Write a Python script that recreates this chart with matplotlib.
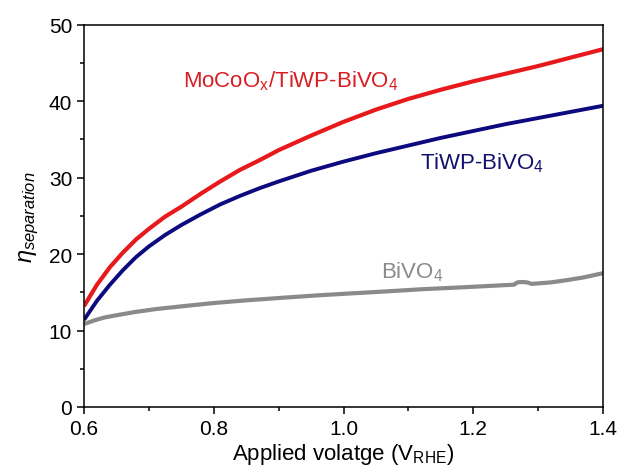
import matplotlib
matplotlib.use("Agg")
import matplotlib.pyplot as plt
from matplotlib.ticker import MultipleLocator, FormatStrFormatter

plt.rcParams['font.family'] = ['Liberation Sans', 'DejaVu Sans']
plt.rcParams['mathtext.fontset'] = 'custom'
plt.rcParams['mathtext.rm'] = 'Liberation Sans'
plt.rcParams['mathtext.it'] = 'Liberation Sans:italic'

# --- veriler ---
x_mococo = [0.600, 0.620, 0.640, 0.660, 0.680, 0.700, 0.725, 0.750, 0.780, 0.810,
            0.840, 0.871, 0.900, 0.950, 1.000, 1.050, 1.100, 1.150, 1.200, 1.250,
            1.300, 1.350, 1.400]
y_mococo = [13.2, 16.0, 18.3, 20.2, 21.9, 23.3, 24.9, 26.2, 27.9, 29.5,
            31.0, 32.3, 33.6, 35.5, 37.3, 38.9, 40.3, 41.5, 42.6, 43.6,
            44.6, 45.7, 46.8]

x_tiwp = [0.600, 0.620, 0.640, 0.660, 0.680, 0.700, 0.725, 0.750, 0.780, 0.810,
          0.840, 0.870, 0.900, 0.950, 1.000, 1.050, 1.100, 1.150, 1.200, 1.250,
          1.300, 1.350, 1.400]
y_tiwp = [11.4, 13.9, 16.0, 17.9, 19.6, 21.0, 22.5, 23.8, 25.2, 26.5,
          27.6, 28.6, 29.5, 30.9, 32.1, 33.2, 34.2, 35.2, 36.1, 37.0,
          37.8, 38.6, 39.4]

x_bivo = [0.600, 0.615, 0.631, 0.650, 0.677, 0.710, 0.754, 0.800, 0.850, 0.908,
          0.960, 1.010, 1.062, 1.120, 1.170, 1.217, 1.263, 1.268, 1.275, 1.283,
          1.290, 1.320, 1.345, 1.370, 1.400]
y_bivo = [10.85, 11.3, 11.7, 12.0, 12.4, 12.8, 13.2, 13.6, 13.95, 14.3,
          14.6, 14.85, 15.1, 15.4, 15.6, 15.8, 16.0, 16.3, 16.35, 16.3,
          16.1, 16.3, 16.6, 16.95, 17.5]

fig = plt.figure(figsize=(6.21, 4.77), dpi=100)
ax = fig.add_axes([0.1353, 0.1447, 0.8357, 0.8013])

ax.plot(x_mococo, y_mococo, color='#e8191c', lw=3.0, solid_capstyle='butt')
ax.plot(x_tiwp, y_tiwp, color='#0c0a7e', lw=2.8, solid_capstyle='butt')
ax.plot(x_bivo, y_bivo, color='#8a8a8a', lw=3.0, solid_capstyle='butt')

ax.text(0.753, 42.7, r'MoCoO$_\mathregular{x}$/TiWP-BiVO$_\mathregular{4}$',
        color='#d81e22', fontsize=16, va='center', ha='left')
ax.text(1.118, 32.0, r'TiWP-BiVO$_\mathregular{4}$',
        color='#12106e', fontsize=16, va='center', ha='left')
ax.text(1.058, 17.8, r'BiVO$_\mathregular{4}$',
        color='#8a8a8a', fontsize=16, va='center', ha='left')

ax.set_xlim(0.6, 1.4)
ax.set_ylim(0, 50)
ax.xaxis.set_major_locator(MultipleLocator(0.2))
ax.xaxis.set_minor_locator(MultipleLocator(0.1))
ax.yaxis.set_major_locator(MultipleLocator(10))
ax.yaxis.set_minor_locator(MultipleLocator(5))
ax.xaxis.set_major_formatter(FormatStrFormatter('%.1f'))

ax.tick_params(which='major', direction='out', length=5, width=1.1, labelsize=15,
               top=False, right=False)
ax.tick_params(which='minor', direction='out', length=3, width=1.1,
               top=False, right=False)
for s in ax.spines.values():
    s.set_linewidth(1.1)

ax.set_xlabel(r'Applied volatge (V$_\mathregular{RHE}$)', fontsize=16, labelpad=2)
ax.set_ylabel(r'$\eta_{separation}$', fontsize=17, labelpad=6)

fig.savefig("out.png", dpi=100)
